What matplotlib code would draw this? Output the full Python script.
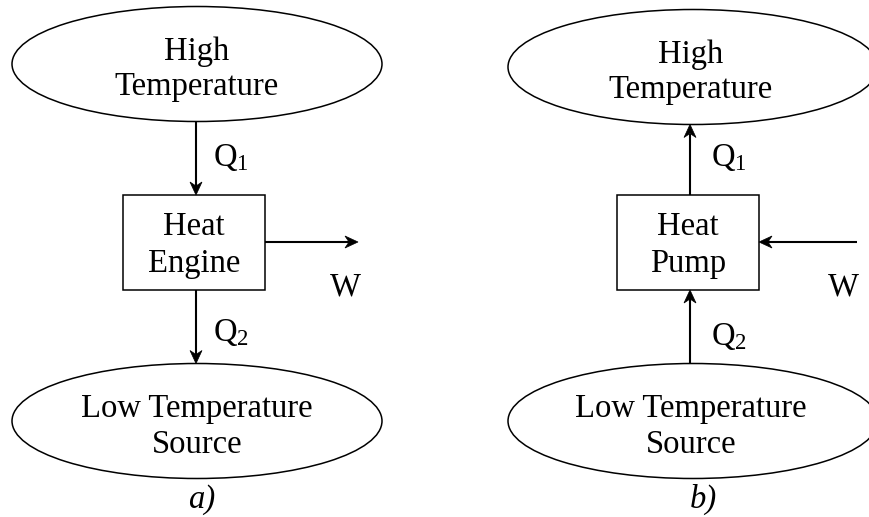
import matplotlib
matplotlib.use("Agg")
import numpy as np
import matplotlib.pyplot as plt
from matplotlib.patches import Ellipse, Rectangle, Polygon
from matplotlib.transforms import Bbox, TransformedBbox

plt.rcParams['font.family'] = ['Liberation Serif', 'DejaVu Serif']
plt.rcParams['mathtext.fontset'] = 'custom'
plt.rcParams['mathtext.rm'] = 'Liberation Serif'
plt.rcParams['mathtext.it'] = 'Liberation Serif:italic'

# labels of the two diagrams
hot_label = ["High", "Temperature"]
cold_label = ["Low Temperature", "Source"]
box_labels = [["Heat", "Engine"], ["Heat", "Pump"]]
panel_tags = ["a)", "b)"]
heat_labels = ["Q", "Q"]
heat_subs = ["1", "2"]
work_label = "W"

# layout in pixels (figure is 870 x 517)
centers = [196, 690]        # centre x of each panel
ell_w, ell_h = 370, 115
hot_y, cold_y = 64, 421
box_w, box_top, box_bot = 142, 195, 290
work_y = 242
fs = 23.5

fig = plt.figure(figsize=(8.7, 5.17), dpi=100)
ax = fig.add_axes([0, 0, 1, 1])
ax.set_xlim(0, 870)
ax.set_ylim(517, 0)
ax.axis('off')

lw_shape = 1.1
lw_arrow = 1.5


def arrow(x0, y0, x1, y1, L=13, w=6, notch=4):
    d = np.array([x1 - x0, y1 - y0], dtype=float)
    d /= np.hypot(*d)
    n = np.array([-d[1], d[0]])
    tip = np.array([x1, y1], dtype=float)
    base = tip - (L - notch) * d
    ax.plot([x0, base[0]], [y0, base[1]], color='black', lw=lw_arrow,
            solid_capstyle='butt')
    pts = [tip, tip - L * d + w * n, base, tip - L * d - w * n]
    ax.add_patch(Polygon(pts, closed=True, fc='black', ec='black', lw=0.5))


for i, cx in enumerate(centers):
    ex = cx + (1 if i == 0 else 3)
    hot_top = hot_y + (0 if i == 0 else 3)
    # reservoirs
    ax.add_patch(Ellipse((ex, hot_top), ell_w, ell_h,
                         fill=False, lw=lw_shape, ec='black'))
    ax.add_patch(Ellipse((ex, cold_y), ell_w, ell_h,
                         fill=False, lw=lw_shape, ec='black'))
    ax.text(cx + 1, hot_top - 4, hot_label[0], fontsize=fs, ha='center', va='baseline')
    t = ax.text(cx + 1, hot_top + 31, hot_label[1], fontsize=fs, ha='center', va='baseline')
    t.set_clip_box(TransformedBbox(Bbox([[0, 0], [870, hot_top + 33]]), ax.transData))

    ax.text(cx + 1, 417, cold_label[0], fontsize=fs, ha='center', va='baseline')
    ax.text(cx + 1, 453, cold_label[1], fontsize=fs, ha='center', va='baseline')
    ax.text(cx + 6 + (7 if i == 1 else 0), 508, panel_tags[i], fontsize=fs,
            ha='center', va='baseline', style='italic')

    # machine box
    bx = cx - 73
    ax.add_patch(Rectangle((bx, box_top), box_w, box_bot - box_top,
                           fill=False, lw=lw_shape, ec='black'))
    ax.text(cx - 2, 235, box_labels[i][0], fontsize=fs, ha='center', va='baseline')
    ax.text(cx - 2, 272, box_labels[i][1], fontsize=fs, ha='center', va='baseline')

    top_edge = hot_top + ell_h / 2
    bot_edge = cold_y - ell_h / 2
    if i == 0:
        arrow(cx, top_edge, cx, box_top)
        arrow(cx, box_bot, cx, bot_edge)
        arrow(bx + box_w, work_y, 358, work_y)
        wx = 345
    else:
        arrow(cx, box_top, cx, top_edge)
        arrow(cx, bot_edge, cx, box_bot)
        arrow(857, work_y, bx + box_w, work_y)
        wx = 843

    ax.text(wx, 295, work_label, fontsize=fs, ha='center', va='baseline')
    qx = cx + 17 + (4 if i == 1 else 0)
    ax.text(qx, 166, heat_labels[0] + "$_{" + heat_subs[0] + "}$",
            fontsize=fs, ha='left', va='baseline')
    ax.text(qx, 341 + (4 if i == 1 else 0), heat_labels[1] + "$_{" + heat_subs[1] + "}$",
            fontsize=fs, ha='left', va='baseline')

fig.savefig("out.png", dpi=100)
